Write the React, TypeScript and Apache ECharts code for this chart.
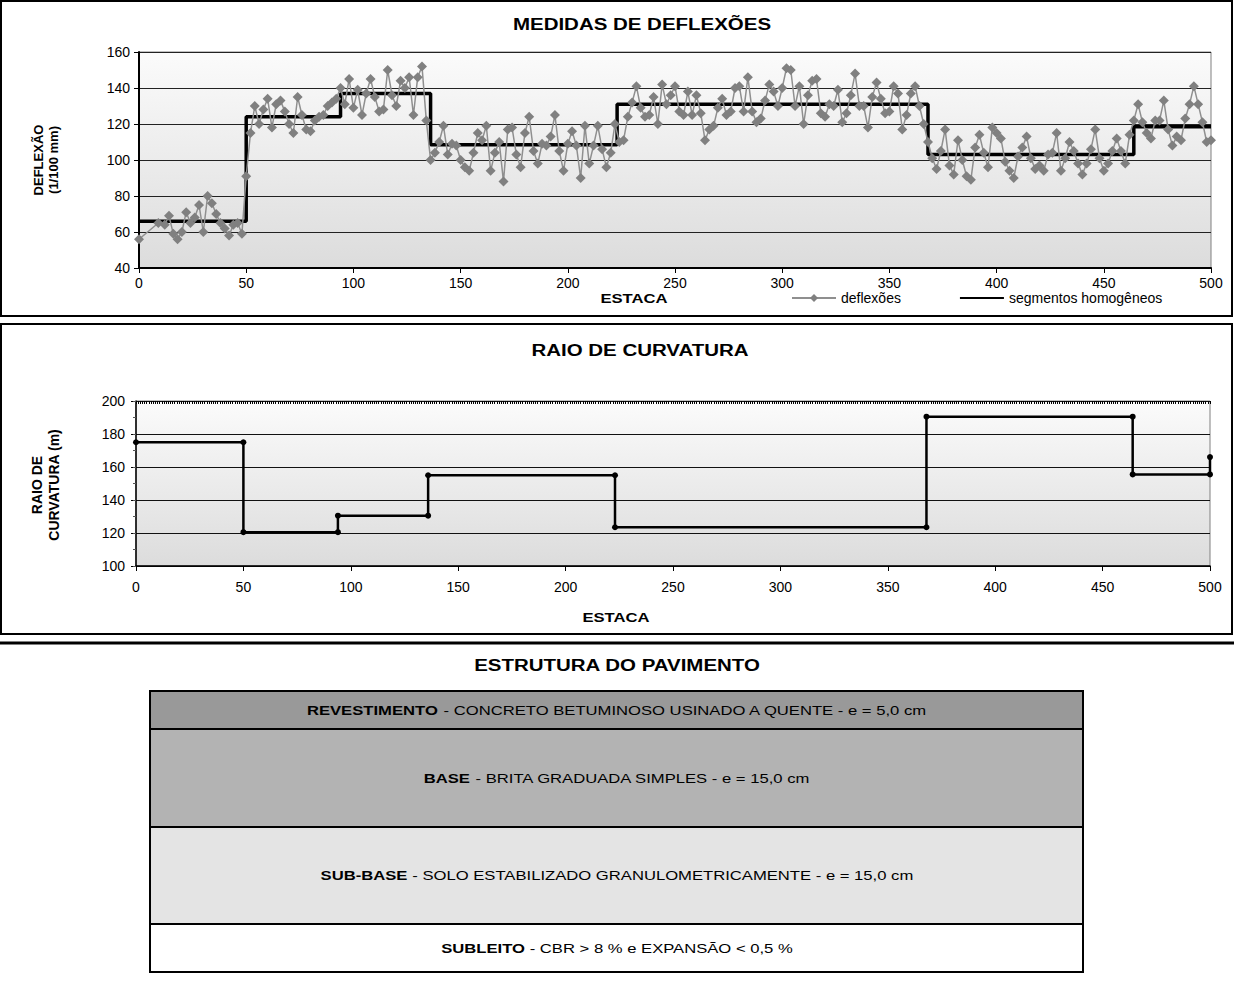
import React, { useEffect, useRef } from "react";
import * as echarts from "echarts";

// ---- Deflection measurements (station, 1/100 mm) ----
const defStations = [
  0, 9, 12, 14, 16, 18, 20, 22, 24, 26, 28, 30, 32, 34, 36, 38, 40, 42, 44, 46, 48, 50,
  52, 54, 56, 58, 60, 62, 64, 66, 68, 70,
  72, 74, 76, 78, 80, 82, 84, 86, 88, 90,
  92, 94, 96, 98, 100, 102, 104, 106, 108, 110,
  112, 114, 116, 118, 120, 122, 124, 126, 128, 130,
  132, 134, 136, 138, 140, 142, 144, 146, 148, 150,
  152, 154, 156, 158, 160, 162, 164, 166, 168, 170,
  172, 174, 176, 178, 180, 182, 184, 186, 188, 190,
  192, 194, 196, 198, 200, 202, 204, 206, 208, 210,
  212, 214, 216, 218, 220, 222, 224, 226, 228, 230,
  232, 234, 236, 238, 240, 242, 244, 246, 248, 250,
  252, 254, 256, 258, 260, 262, 264, 266, 268, 270,
  272, 274, 276, 278, 280, 282, 284, 286, 288, 290,
  292, 294, 296, 298, 300, 302, 304, 306, 308, 310,
  312, 314, 316, 318, 320, 322, 324, 326, 328, 330,
  332, 334, 336, 338, 340, 342, 344, 346, 348, 350,
  352, 354, 356, 358, 360, 362, 364, 366, 368, 370,
  372, 374, 376, 378, 380, 382, 384, 386, 388, 390,
  392, 394, 396, 398, 400, 402, 404, 406, 408, 410,
  412, 414, 416, 418, 420, 422, 424, 426, 428, 430,
  432, 434, 436, 438, 440, 442, 444, 446, 448, 450,
  452, 454, 456, 458, 460, 462, 464, 466, 468, 470,
  472, 474, 476, 478, 480, 482, 484, 486, 488, 490,
  492, 494, 496, 498, 500,
];
const defValues = [
  56, 65, 64, 69, 59, 56, 60, 71, 65, 68, 75, 60, 80, 76, 70, 65, 62, 58, 64, 65, 59, 91,
  115, 130, 120, 128, 134, 118, 131, 133, 127, 120,
  115, 135, 125, 117, 116, 122, 124, 125, 130, 132,
  134, 140, 131, 145, 129, 139, 125, 137, 145, 135,
  127, 128, 150, 136, 130, 144, 140, 146, 125, 146,
  152, 122, 100, 104, 110, 119, 103, 109, 108, 100,
  96, 94, 104, 115, 111, 119, 94, 104, 110, 88,
  117, 118, 103, 96, 115, 124, 105, 98, 109, 108,
  113, 125, 105, 94, 109, 116, 108, 90, 119, 98,
  108, 119, 106, 96, 104, 120, 110, 111, 124, 132,
  141, 129, 124, 125, 135, 120, 142, 131, 136, 141,
  127, 125, 138, 125, 136, 126, 111, 117, 119, 129,
  134, 125, 127, 140, 141, 127, 146, 127, 121, 123,
  133, 142, 138, 130, 140, 151, 150, 130, 141, 120,
  136, 144, 145, 126, 124, 131, 130, 139, 121, 126,
  136, 148, 130, 130, 118, 135, 143, 134, 126, 127,
  141, 137, 117, 125, 137, 141, 130, 120, 110, 101,
  95, 105, 117, 97, 92, 111, 100, 91, 89, 107,
  114, 104, 96, 118, 115, 112, 99, 94, 90, 102,
  107, 113, 101, 95, 97, 94, 103, 104, 115, 94,
  101, 110, 105, 98, 92, 98, 106, 117, 101, 94,
  98, 105, 112, 105, 98, 114, 122, 131, 121, 115,
  112, 122, 122, 133, 117, 108, 113, 111, 123, 131,
  141, 131, 121, 110, 111,
];

// ---- Homogeneous segments (deflection) ----
const segStart = [0, 50, 94, 136, 223, 368, 464];
const segEnd = [50, 94, 136, 223, 368, 464, 500];
const segValue = [66, 124, 137, 108.5, 131, 103, 118.5];

// ---- Radius of curvature (m) per segment ----
const radStart = [0, 50, 94, 136, 223, 368, 464];
const radEnd = [50, 94, 136, 223, 368, 464, 500];
const radValue = [175, 120.5, 130.5, 155, 123.5, 190.5, 155.5];
const radLastStation = 500;
const radLastValue = 166;

// ---- Pavement structure ----
const layerNames = ["REVESTIMENTO", "BASE", "SUB-BASE", "SUBLEITO"];
const layerDescs = [
  " - CONCRETO BETUMINOSO USINADO A QUENTE - e = 5,0 cm",
  " - BRITA GRADUADA SIMPLES - e = 15,0 cm",
  " - SOLO ESTABILIZADO GRANULOMETRICAMENTE - e = 15,0 cm",
  " - CBR > 8 % e EXPANSÃO < 0,5 %",
];

const F = "'Liberation Sans', Arial, sans-serif";
const SX = 1.28;

export default function App() {
  const ref = useRef<HTMLDivElement>(null);

  useEffect(() => {
    const chart = echarts.init(ref.current!, null, { renderer: "svg" });

    const defData = defStations.map((s, i) => [s, defValues[i]]);
    const segData: number[][] = [];
    segStart.forEach((s, i) => {
      segData.push([s, segValue[i]]);
      segData.push([segEnd[i], segValue[i]]);
    });
    const radData: number[][] = [];
    radStart.forEach((s, i) => {
      radData.push([s, radValue[i]]);
      radData.push([radEnd[i], radValue[i]]);
    });
    radData.push([radLastStation, radLastValue]);

    const bg = () =>
      new echarts.graphic.LinearGradient(0, 0, 0, 1, [
        { offset: 0, color: "#fbfbfb" },
        { offset: 1, color: "#dcdcdc" },
      ]);

    const labelStyle = { fontFamily: F, fontSize: 14, color: "#000" };

    // table geometry
    const tX = 150, tW = 933;
    const rowY = [691, 729, 827, 924, 972];
    const rowFill = ["#999999", "#b3b3b3", "#e4e4e4", "#ffffff"];

    const graphic: any[] = [
      { type: "rect", shape: { x: 1, y: 1, width: 1231, height: 315 }, style: { fill: "none", stroke: "#000", lineWidth: 2 } },
      { type: "rect", shape: { x: 1, y: 324, width: 1231, height: 310 }, style: { fill: "none", stroke: "#000", lineWidth: 2 } },
      { type: "line", shape: { x1: 0, y1: 643, x2: 1234, y2: 643 }, style: { stroke: "#000", lineWidth: 3 } },
    ];
    const addText = (text: string, x: number, y: number, font: string, extra: any = {}) => {
      graphic.push({
        type: "text",
        x,
        y,
        scaleX: extra.noScale ? 1 : SX,
        rotation: extra.rotation || 0,
        style: {
          text,
          font,
          fill: "#000",
          align: "center",
          verticalAlign: "middle",
          textAlign: "center",
          textVerticalAlign: "middle",
          lineHeight: extra.lineHeight,
        },
        z: 10,
      });
    };
    addText("MEDIDAS DE DEFLEXÕES", 642, 24, `bold 16px ${F}`);
    addText("ESTACA", 634, 298, `bold 13px ${F}`);
    addText("RAIO DE CURVATURA", 640, 350, `bold 16px ${F}`);
    addText("ESTACA", 616, 617, `bold 13px ${F}`);
    addText("ESTRUTURA DO PAVIMENTO", 617, 665, `bold 16px ${F}`);
    addText("DEFLEXÃO\n(1/100 mm)", 46, 160, `bold 13px ${F}`, { noScale: true, rotation: Math.PI / 2, lineHeight: 15 });
    addText("RAIO DE\nCURVATURA (m)", 45, 485, `bold 14px ${F}`, { noScale: true, rotation: Math.PI / 2, lineHeight: 17 });

    layerNames.forEach((name, i) => {
      graphic.push({
        type: "rect",
        shape: { x: tX, y: rowY[i], width: tW, height: rowY[i + 1] - rowY[i] },
        style: { fill: rowFill[i], stroke: "#000", lineWidth: 2 },
        z: 5,
      });
      graphic.push({
        type: "text",
        x: 617,
        y: (rowY[i] + rowY[i + 1]) / 2,
        scaleX: SX,
        style: {
          text: `{b|${name}}{n|${layerDescs[i]}}`,
          font: `13px ${F}`,
          fill: "#000",
          align: "center",
          verticalAlign: "middle",
          textAlign: "center",
          textVerticalAlign: "middle",
          rich: {
            b: { font: `bold 13px ${F}`, fill: "#000" },
            n: { font: `13px ${F}`, fill: "#000" },
          },
        },
        z: 10,
      });
    });

    const option: any = {
      animation: false,
      backgroundColor: "#ffffff",
      textStyle: { fontFamily: F },
      grid: [
        { left: 139, top: 52, width: 1072, height: 216, show: true, backgroundColor: bg(), borderColor: "#808080", borderWidth: 1 },
        { left: 136, top: 401, width: 1074, height: 165, show: true, backgroundColor: bg(), borderColor: "#808080", borderWidth: 1 },
      ],
      legend: {
        data: ["deflexões", "segmentos homogêneos"],
        left: 791,
        top: 291,
        padding: 0,
        itemWidth: 44,
        itemHeight: 10,
        itemGap: 58,
        textStyle: { fontFamily: F, fontSize: 14, color: "#000" },
      },
      xAxis: [
        {
          type: "value", gridIndex: 0, min: 0, max: 500, interval: 50,
          axisLine: { show: true, onZero: false, lineStyle: { color: "#000", width: 2 } },
          axisTick: { show: true, length: 5, lineStyle: { color: "#000" } },
          axisLabel: { ...labelStyle, margin: 8 },
          splitLine: { show: false },
        },
        {
          type: "value", gridIndex: 1, min: 0, max: 500, interval: 50,
          axisLine: { show: true, onZero: false, lineStyle: { color: "#000", width: 1.5 } },
          axisTick: { show: true, length: 5, lineStyle: { color: "#000" } },
          axisLabel: { ...labelStyle, margin: 14 },
          splitLine: { show: false },
        },
        {
          type: "value", gridIndex: 1, min: 0, max: 500, interval: 1,
          axisLine: { show: false },
          axisTick: { show: true, inside: true, length: 3, lineStyle: { color: "#000", width: 1 } },
          axisLabel: { show: false },
          splitLine: { show: false },
        },
      ],
      yAxis: [
        {
          type: "value", gridIndex: 0, min: 40, max: 160, interval: 20,
          axisLine: { show: true, lineStyle: { color: "#000", width: 2 } },
          axisTick: { show: true, length: 5, lineStyle: { color: "#000" } },
          axisLabel: { ...labelStyle, margin: 9 },
          splitLine: { show: true, lineStyle: { color: "#222", width: 1 } },
        },
        {
          type: "value", gridIndex: 1, min: 100, max: 200, interval: 20,
          axisLine: { show: true, lineStyle: { color: "#000", width: 1.5 } },
          axisTick: { show: true, length: 5, lineStyle: { color: "#000" } },
          axisLabel: { ...labelStyle, margin: 11 },
          splitLine: { show: true, lineStyle: { color: "#111", width: 1 } },
        },
        {
          type: "value", gridIndex: 1, min: 100, max: 200, interval: 10,
          axisLine: { show: false },
          axisTick: { show: true, inside: true, length: 3, lineStyle: { color: "#555" } },
          axisLabel: { show: false },
          splitLine: { show: false },
        },
      ],
      series: [
        {
          name: "segmentos homogêneos",
          type: "line",
          xAxisIndex: 0,
          yAxisIndex: 0,
          data: segData,
          showSymbol: false,
          symbol: "none",
          lineStyle: { color: "#000", width: 3.5 },
          itemStyle: { color: "rgba(0,0,0,0)", borderColor: "rgba(0,0,0,0)" },
          z: 2,
        },
        {
          name: "deflexões",
          type: "line",
          xAxisIndex: 0,
          yAxisIndex: 0,
          data: defData,
          symbol: "diamond",
          symbolSize: 10,
          itemStyle: { color: "#808080" },
          lineStyle: { color: "#8f8f8f", width: 1.5 },
          z: 3,
        },
        {
          name: "raio",
          type: "line",
          xAxisIndex: 1,
          yAxisIndex: 1,
          data: radData,
          symbol: "circle",
          symbolSize: 6,
          itemStyle: { color: "#000" },
          lineStyle: { color: "#000", width: 2.5 },
          z: 3,
        },
      ],
      graphic,
    };

    chart.setOption(option);
    return () => chart.dispose();
  }, []);

  return (
    <div
      ref={ref}
      style={{ position: "absolute", left: 0, top: 0, width: 1234, height: 994, background: "#fff" }}
    />
  );
}
